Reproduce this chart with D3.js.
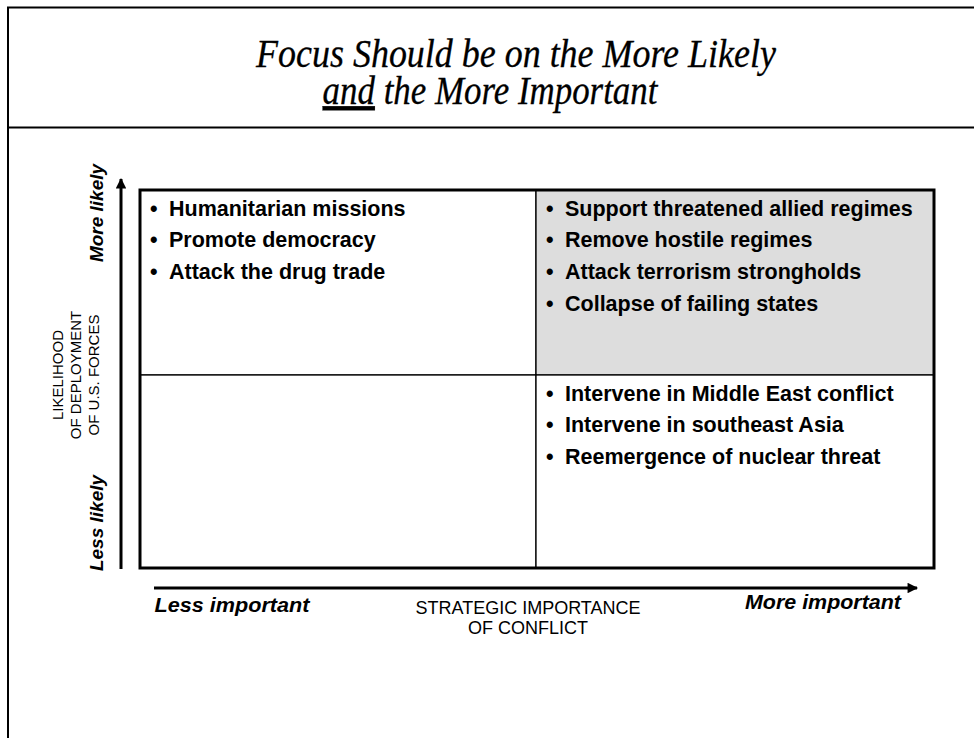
<!DOCTYPE html>
<html><head><meta charset="utf-8">
<script src="https://cdn.jsdelivr.net/npm/d3@7"></script>
<style>html,body{margin:0;padding:0;background:#fff;}svg{display:block;}</style>
</head><body>
<script>
// ---- data ----
const titleLines = ["Focus Should be on the More Likely", "the More Important"];
const titleEmph = "and";
const importanceCats = ["Less important", "More important"];
const likelihoodCats = ["More likely", "Less likely"];
const xAxisTitle = ["STRATEGIC IMPORTANCE", "OF CONFLICT"];
const yAxisTitle = ["LIKELIHOOD", "OF DEPLOYMENT", "OF U.S. FORCES"];
const quadrants = [
  {imp: "Less important", lik: "More likely", highlight: false,
   items: ["Humanitarian missions", "Promote democracy", "Attack the drug trade"]},
  {imp: "More important", lik: "More likely", highlight: true,
   items: ["Support threatened allied regimes", "Remove hostile regimes", "Attack terrorism strongholds", "Collapse of failing states"]},
  {imp: "Less important", lik: "Less likely", highlight: false, items: []},
  {imp: "More important", lik: "Less likely", highlight: false,
   items: ["Intervene in Middle East conflict", "Intervene in southeast Asia", "Reemergence of nuclear threat"]}
];

const W = 974, H = 738;
const svg = d3.select("body").append("svg").attr("width", W).attr("height", H);
const sans = "'Liberation Sans', Arial, sans-serif";
const serif = "'Liberation Serif', 'Times New Roman', serif";

// frame
svg.append("path").attr("d", `M8,${H+5} L8,7.5 L${W+5},7.5`).attr("fill","none").attr("stroke","#000").attr("stroke-width",2);
svg.append("line").attr("x1",8).attr("x2",W+5).attr("y1",127.5).attr("y2",127.5).attr("stroke","#000").attr("stroke-width",2);

// title (condensed serif italic)
const t1 = svg.append("text").attr("text-anchor","middle")
  .attr("font-family", serif).attr("font-style","italic").attr("font-size", 41)
  .attr("stroke","#000").attr("stroke-width",0.3).text(titleLines[0]);
const t2 = svg.append("text").attr("text-anchor","middle")
  .attr("font-family", serif).attr("font-style","italic").attr("font-size", 41)
  .attr("stroke","#000").attr("stroke-width",0.3);
t2.append("tspan").attr("text-decoration","underline").text(titleEmph);
t2.append("tspan").text(" " + titleLines[1]);
const s1 = 520 / t1.node().getComputedTextLength();
const s2 = 335 / t2.node().getComputedTextLength();
t1.attr("transform", `translate(516,67) scale(${s1},1)`);
t2.attr("transform", `translate(490,104) scale(${s2},1)`);

// scales
const x = d3.scaleOrdinal().domain(importanceCats).range([140, 536]);
const y = d3.scaleOrdinal().domain(likelihoodCats).range([190, 375]);
const xEnd = 934, yEnd = 568;
const cellW = d => (importanceCats.indexOf(d.imp) === 0 ? x(importanceCats[1]) : xEnd) - x(d.imp);
const cellH = d => (likelihoodCats.indexOf(d.lik) === 0 ? y(likelihoodCats[1]) : yEnd) - y(d.lik);

// quadrant cells
const g = svg.append("g");
g.selectAll("rect.cell").data(quadrants).join("rect").attr("class","cell")
  .attr("x", d => x(d.imp)).attr("y", d => y(d.lik))
  .attr("width", cellW).attr("height", cellH)
  .attr("fill", d => d.highlight ? "#dddddd" : "#fff")
  .attr("stroke", "#000").attr("stroke-width", 1.3);
// outer box
g.append("rect").attr("x", x(importanceCats[0])).attr("y", y(likelihoodCats[0]))
  .attr("width", xEnd - x(importanceCats[0])).attr("height", yEnd - y(likelihoodCats[0]))
  .attr("fill","none").attr("stroke","#000").attr("stroke-width",3);

// items
quadrants.forEach(q => {
  const gx = x(q.imp), gy = y(q.lik);
  q.items.forEach((it, i) => {
    const by = gy + 25.5 + i * 31.8;
    svg.append("text").attr("x", gx + 10).attr("y", by)
      .attr("font-family", sans).attr("font-weight","bold").attr("font-size", 21.5).text("\u2022");
    svg.append("text").attr("x", gx + 29).attr("y", by)
      .attr("font-family", sans).attr("font-weight","bold").attr("font-size", 21.5).text(it);
  });
});

// arrows
const defs = svg.append("defs");
defs.append("marker").attr("id","ah").attr("viewBox","0 0 10 10").attr("refX",9).attr("refY",5)
  .attr("markerWidth",4).attr("markerHeight",3.5).attr("orient","auto")
  .append("path").attr("d","M0,0 L10,5 L0,10 z").attr("fill","#000");
svg.append("line").attr("x1",121).attr("x2",121).attr("y1",569).attr("y2",179)
  .attr("stroke","#000").attr("stroke-width",3).attr("marker-end","url(#ah)");
svg.append("line").attr("x1",154).attr("x2",917).attr("y1",588).attr("y2",588)
  .attr("stroke","#000").attr("stroke-width",3).attr("marker-end","url(#ah)");

// x labels
svg.append("text").attr("x", 232).attr("y", 612).attr("text-anchor","middle")
  .attr("font-family", sans).attr("font-weight","bold").attr("font-style","italic").attr("font-size",20)
  .attr("textLength",155).attr("lengthAdjust","spacingAndGlyphs").text(importanceCats[0]);
svg.append("text").attr("x", 823).attr("y", 609).attr("text-anchor","middle")
  .attr("font-family", sans).attr("font-weight","bold").attr("font-style","italic").attr("font-size",20)
  .attr("textLength",156).attr("lengthAdjust","spacingAndGlyphs").text(importanceCats[1]);
xAxisTitle.forEach((s, i) => {
  svg.append("text").attr("x", 528).attr("y", 614 + i*19.5).attr("text-anchor","middle")
    .attr("font-family", sans).attr("font-size",18).text(s);
});

// y labels
svg.append("text").attr("transform","translate(103,213) rotate(-90)").attr("text-anchor","middle")
  .attr("font-family", sans).attr("font-weight","bold").attr("font-style","italic").attr("font-size",19).text(likelihoodCats[0]);
svg.append("text").attr("transform","translate(103,523) rotate(-90)").attr("text-anchor","middle")
  .attr("font-family", sans).attr("font-weight","bold").attr("font-style","italic").attr("font-size",19).text(likelihoodCats[1]);
yAxisTitle.forEach((s, i) => {
  svg.append("text").attr("transform", `translate(${63 + i*18},375) rotate(-90)`).attr("text-anchor","middle")
    .attr("font-family", sans).attr("font-size",15).text(s);
});
</script>
</body></html>
